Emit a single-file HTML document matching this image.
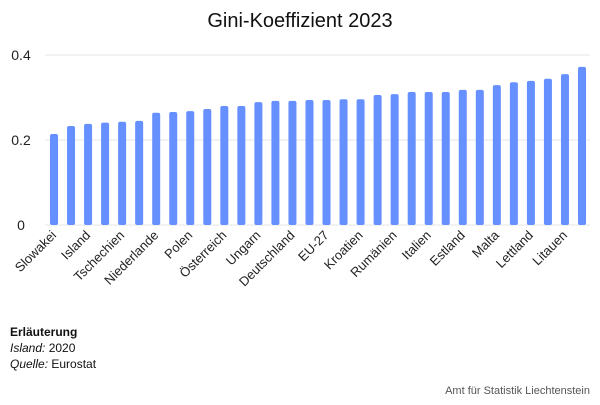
<!DOCTYPE html>
<html><head><meta charset="utf-8"><style>
body{margin:0;background:#fff;font-family:"Liberation Sans",sans-serif;}
svg text{font-family:"Liberation Sans",sans-serif;}
</style></head><body>
<svg width="600" height="400" xmlns="http://www.w3.org/2000/svg">
<text x="300" y="27" text-anchor="middle" font-size="20" fill="#111">Gini-Koeffizient 2023</text>
<g id="grid"></g>
<g id="bars"></g>
<g id="xlabels"></g>
<text x="10" y="336" font-size="12" font-weight="bold" fill="#111">Erläuterung</text>
<text x="10" y="352" font-size="12" fill="#111"><tspan font-style="italic">Island:</tspan> 2020</text>
<text x="10" y="368" font-size="12" fill="#111"><tspan font-style="italic">Quelle:</tspan> Eurostat</text>
<text x="590" y="394" text-anchor="end" font-size="11" fill="#555">Amt für Statistik Liechtenstein</text>
</svg>
<script>
const categories=["Slowakei","Slowenien","Island","Belgien","Tschechien","Norwegen","Niederlande","Finnland","Polen","Dänemark","Österreich","Schweden","Ungarn","Irland","Deutschland","Zypern","EU-27","Frankreich","Kroatien","Luxemburg","Rumänien","Griechenland","Italien","Schweiz","Estland","Portugal","Malta","Spanien","Lettland","Bulgarien","Litauen","Liechtenstein"];
const values=[0.214,0.233,0.238,0.241,0.243,0.245,0.264,0.266,0.268,0.273,0.280,0.280,0.289,0.292,0.292,0.294,0.294,0.296,0.296,0.306,0.308,0.313,0.313,0.313,0.318,0.318,0.329,0.336,0.339,0.344,0.355,0.372];
const yTicks=[0,0.2,0.4];
const yTickLabels=["0","0.2","0.4"];
const NS="http://www.w3.org/2000/svg";
const y0=225, yTop=55, xFirst=54, xLast=582;
const y=v=>y0-(v/0.4)*(y0-yTop);
const x=i=>xFirst+i*(xLast-xFirst)/(categories.length-1);
const grid=document.getElementById('grid'),bars=document.getElementById('bars'),xl=document.getElementById('xlabels');
yTicks.forEach((t,i)=>{
 const l=document.createElementNS(NS,'line');
 l.setAttribute('x1',45);l.setAttribute('x2',590);l.setAttribute('y1',y(t));l.setAttribute('y2',y(t));
 l.setAttribute('stroke','#e6e6e6');l.setAttribute('stroke-width','1');
 
 
 grid.appendChild(l);
 const tx=document.createElementNS(NS,'text');
 tx.setAttribute('x',21);tx.setAttribute('y',y(t)+5);tx.setAttribute('text-anchor','middle');
 tx.setAttribute('font-size','14');tx.setAttribute('fill','#222');tx.textContent=yTickLabels[i];
 
 
 grid.appendChild(tx);
});
values.forEach((v,i)=>{
 const r=document.createElementNS(NS,'rect');
 r.setAttribute('x',x(i)-4);r.setAttribute('width',8);r.setAttribute('y',y(v));r.setAttribute('height',y0-y(v));
 r.setAttribute('rx',2);r.setAttribute('fill','#6690ff');
 
 
 bars.appendChild(r);
 if(i%2===0){
  const t=document.createElementNS(NS,'text');
  t.setAttribute('transform','translate('+(x(i)+3)+',236) rotate(-45)');
  t.setAttribute('text-anchor','end');t.setAttribute('font-size','13');t.setAttribute('fill','#222');
  t.textContent=categories[i];
  
  
  xl.appendChild(t);
 }
});
</script>
</body></html>
